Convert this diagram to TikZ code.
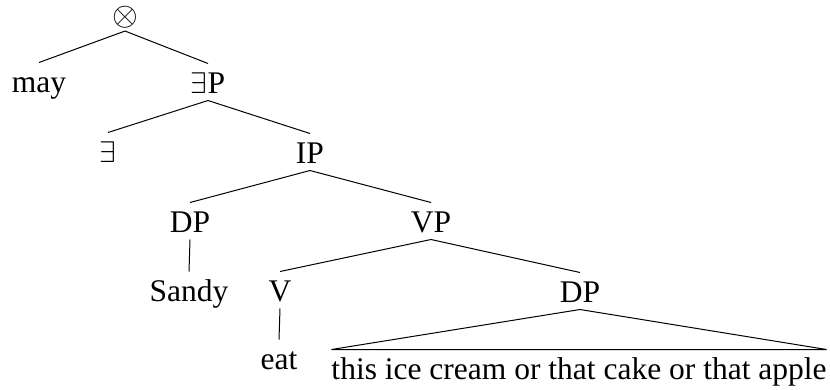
\documentclass[tikz,border=0pt]{standalone}
\usepackage{fontspec}
\setmainfont{Liberation Serif}
\newcommand\myexists{\scalebox{1.2}{$\exists$}}
\newcommand\myotimes{\scalebox{1.33}{$\otimes$}}
\begin{document}
\begin{tikzpicture}[x=1pt,y=-1pt,
  lbl/.style={inner sep=0pt,outer ysep=7.5pt,outer xsep=0pt,text height=22pt,text depth=0pt,anchor=base,
    font=\fontsize{31.5pt}{38pt}\selectfont},
  topnode/.style={inner sep=0pt,outer sep=2.5pt,font=\fontsize{31.5pt}{38pt}\selectfont},
  edge/.style={line width=1pt}]
\useasboundingbox (0,0) rectangle (830,389);
\node[topnode] (top) at (125,17.5) {\myotimes};
\node[lbl] (may) at (39,92) {may};
\node[lbl] (EP) at (208,93) {\myexists P};
\node[lbl] (E) at (108,162) {\myexists};
\node[lbl] (IP) at (310,163) {IP};
\node[lbl] (DP) at (190,232) {DP};
\node[lbl] (VP) at (431,232) {VP};
\node[lbl] (Sandy) at (189,301) {Sandy};
\node[lbl] (V) at (280,301) {V};
\node[lbl] (DPb) at (580,302) {DP};
\node[lbl] (eat) at (279,369) {eat};
\node[lbl] (txt) at (579,379) {this ice cream or that cake or that apple};
\draw[edge] (may.north) -- (top.south) -- (EP.north);
\draw[edge] (E.north) -- (EP.south) -- (IP.north);
\draw[edge] (DP.north) -- (IP.south) -- (VP.north);
\draw[edge] (DP.south) -- (Sandy.north);
\draw[edge] (V.north) -- (VP.south) -- (DPb.north);
\draw[edge] (V.south) -- (eat.north);
\draw[edge] (DPb.south) -- (txt.north west) -- (txt.north east) -- cycle;
\end{tikzpicture}
\end{document}
